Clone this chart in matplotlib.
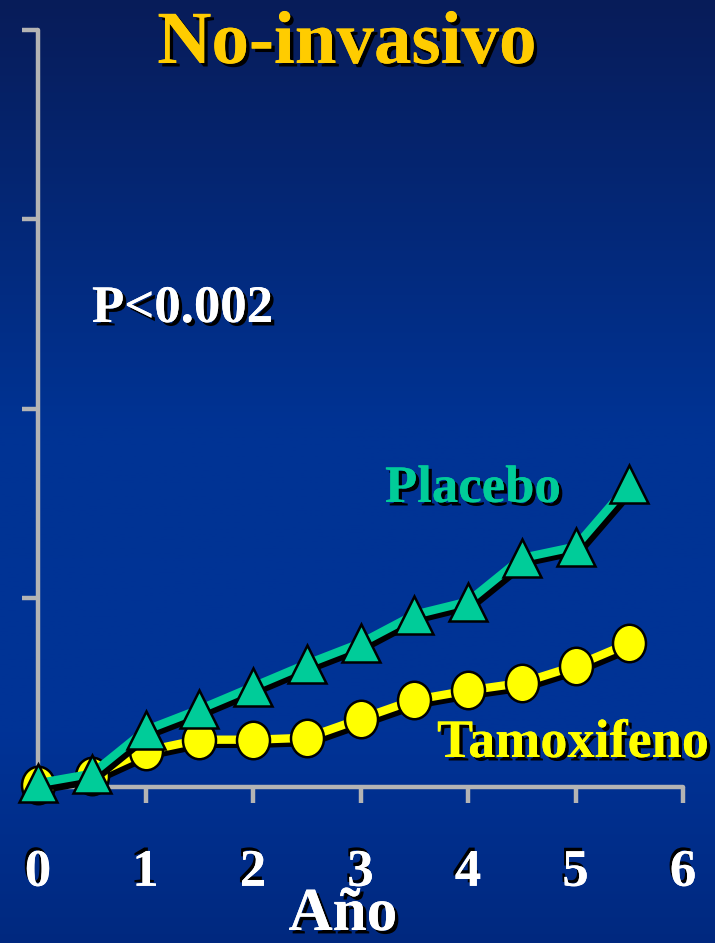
import numpy as np
import matplotlib.pyplot as plt
import matplotlib.patheffects as pe
from matplotlib.path import Path
from matplotlib.colors import LinearSegmentedColormap

# seguimiento en años
anios = [0, 0.5, 1, 1.5, 2, 2.5, 3, 3.5, 4, 4.5, 5, 5.5]
placebo = [0.02, 0.07, 0.30, 0.41, 0.53, 0.65, 0.76, 0.91, 0.98, 1.21, 1.27, 1.60]
tamoxifeno = [0.01, 0.06, 0.19, 0.25, 0.25, 0.26, 0.36, 0.46, 0.51, 0.55, 0.64, 0.76]
xticks = [0, 1, 2, 3, 4, 5, 6]
yticks = [0, 1, 2, 3, 4]

verde = '#00CC99'
amarillo = '#FFFF00'
dorado = '#FFCC00'
gris = '#B4B4B4'

plt.rcParams['font.family'] = ['Liberation Serif', 'DejaVu Serif']
plt.rcParams['font.weight'] = 'bold'

W, H = 715, 943
fig = plt.figure(figsize=(W / 100, H / 100), dpi=100)

# fondo degradado azul
bg = fig.add_axes([0, 0, 1, 1], zorder=-10)
cmap = LinearSegmentedColormap.from_list('fondo', [
    (0.0, (0.03, 0.11, 0.35)),
    (0.45, (0.0, 0.20, 0.58)),
    (0.78, (0.0, 0.20, 0.59)),
    (1.0, (0.0, 0.16, 0.50))])
grad = np.linspace(0, 1, 400).reshape(-1, 1)
bg.imshow(grad, aspect='auto', cmap=cmap, extent=[0, 1, 1, 0])
bg.set_axis_off()

x0, x1 = 38 / W, 683 / W
y0, y1 = 1 - 787 / H, 1 - 30 / H
ax = fig.add_axes([x0, y0, x1 - x0, y1 - y0])
ax.patch.set_alpha(0)
ax.set_xlim(0, 6)
ax.set_ylim(0, 4)

for s in ['top', 'right']:
    ax.spines[s].set_visible(False)
for s in ['left', 'bottom']:
    ax.spines[s].set_color(gris)
    ax.spines[s].set_linewidth(3.2)
    ax.spines[s].set_capstyle('round')

ax.set_xticks(xticks)
ax.set_yticks(yticks)
ax.set_yticklabels([])
ax.tick_params(axis='both', direction='out', length=11.5, width=3.2, color=gris)
ax.tick_params(axis='x', pad=33, labelsize=38, labelcolor='white')
ax.xaxis.get_major_ticks()[1].tick1line.set_color('#99CCFF')

sombra_txt = [pe.withSimplePatchShadow(offset=(2.5, -2.5), shadow_rgbFace='black', alpha=1), pe.Normal()]
sombra_num = [pe.withSimplePatchShadow(offset=(-1.5, 2.5), shadow_rgbFace='black', alpha=1), pe.Normal()]
for lab in ax.get_xticklabels():
    lab.set_path_effects(sombra_num)
    lab.set_fontweight('bold')

sombra_lin = [pe.SimpleLineShadow(offset=(3, -3), shadow_color='black', alpha=1), pe.Normal()]

# marcador elíptico para tamoxifeno
circ = Path.unit_circle()
elipse = Path(circ.vertices * [0.88, 1.0], circ.codes)

ax.plot(anios, tamoxifeno, color=amarillo, lw=6, solid_joinstyle='round',
        path_effects=sombra_lin, clip_on=False, zorder=3)
ax.plot(anios, tamoxifeno, ls='none', marker=elipse, ms=27, mfc=amarillo,
        mec='black', mew=1.8, clip_on=False, zorder=4)
ax.plot(anios, placebo, color=verde, lw=6, solid_joinstyle='round',
        path_effects=sombra_lin, clip_on=False, zorder=5)
ax.plot(anios, placebo, ls='none', marker='^', ms=27, mfc=verde,
        mec='black', mew=1.8, clip_on=False, zorder=6)

fig.text(347 / W, 1 - 63 / H, 'No-invasivo', color=dorado, fontsize=54,
         fontweight='bold', ha='center', va='baseline', path_effects=sombra_txt)
fig.text(92 / W, 1 - 322 / H, 'P<0.002', color='white', fontsize=38,
         fontweight='bold', ha='left', va='baseline', path_effects=sombra_txt)
fig.text(385 / W, 1 - 502 / H, 'Placebo', color=verde, fontsize=38,
         fontweight='bold', ha='left', va='baseline', path_effects=sombra_txt)
fig.text(437 / W, 1 - 757 / H, 'Tamoxifeno', color=amarillo, fontsize=39,
         fontweight='bold', ha='left', va='baseline', path_effects=sombra_txt)
fig.text(343 / W, 1 - 930 / H, 'Año', color='white', fontsize=44,
         fontweight='bold', ha='center', va='baseline', path_effects=sombra_txt)

fig.savefig('out.png', dpi=100)
